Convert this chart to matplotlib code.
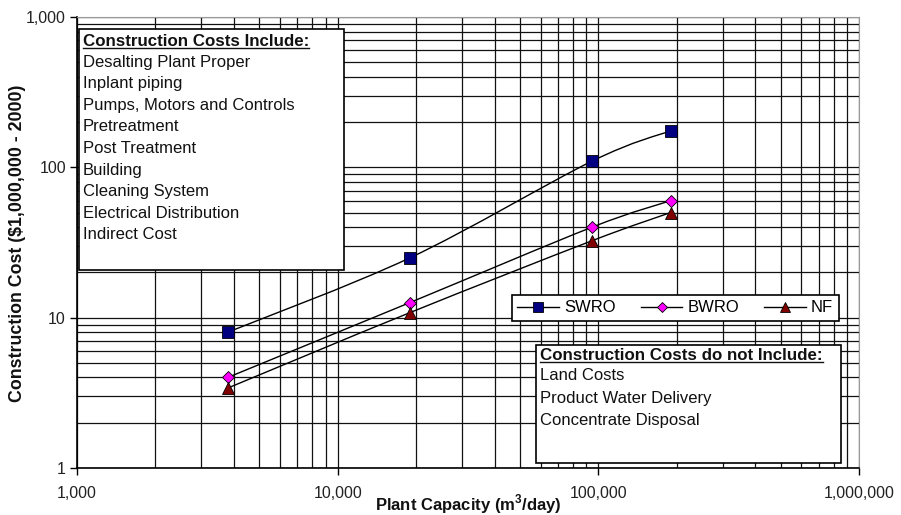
import numpy as np
import matplotlib
matplotlib.use("Agg")
import matplotlib.pyplot as plt
from matplotlib.path import Path
from matplotlib.patches import PathPatch, Rectangle
from matplotlib.lines import Line2D
from matplotlib.ticker import FuncFormatter, LogLocator

plt.rcParams['font.family'] = ['Liberation Sans', 'DejaVu Sans']
plt.rcParams['mathtext.fontset'] = 'custom'
plt.rcParams['mathtext.bf'] = 'Liberation Sans:bold'
plt.rcParams['mathtext.rm'] = 'Liberation Sans'

# ---- data ----
capacity = [3785, 18927, 94635, 189270]
swro = [8.0, 25.0, 110.0, 175.0]
bwro = [4.0, 12.6, 40.0, 60.0]
nf = [3.4, 10.8, 32.5, 50.0]

series_names = ["SWRO", "BWRO", "NF"]
include_title = "Construction Costs Include:"
include_items = ["Desalting Plant Proper", "Inplant piping", "Pumps, Motors and Controls",
                 "Pretreatment", "Post Treatment", "Building", "Cleaning System",
                 "Electrical Distribution", "Indirect Cost"]
exclude_title = "Construction Costs do not Include:"
exclude_items = ["Land Costs", "Product Water Delivery", "Concentrate Disposal"]

W, H = 901, 515
fig = plt.figure(figsize=(W / 100, H / 100), dpi=100)
ax = fig.add_axes([77 / W, 1 - 468 / H, (859 - 77) / W, (468 - 17) / H])
ax.set_xscale('log')
ax.set_yscale('log')
ax.set_xlim(1000, 1e6)
ax.set_ylim(1, 1000)

ax.xaxis.set_major_locator(LogLocator(base=10, numticks=10))
ax.xaxis.set_minor_locator(LogLocator(base=10, subs=np.arange(2, 10), numticks=20))
ax.yaxis.set_major_locator(LogLocator(base=10, numticks=10))
ax.yaxis.set_minor_locator(LogLocator(base=10, subs=np.arange(2, 10), numticks=20))
fmt = FuncFormatter(lambda v, p: f"{int(round(v)):,}")
ax.xaxis.set_major_formatter(fmt)
ax.yaxis.set_major_formatter(fmt)
ax.grid(True, which='both', color='#111111', lw=0.9)
ax.set_axisbelow(True)
ax.tick_params(which='major', direction='out', length=5, width=1, labelsize=11.5,
               labelcolor='#222222', pad=3)
ax.tick_params(which='minor', length=0)
ax.tick_params(axis='x', pad=8)
for s in ['top', 'right']:
    ax.spines[s].set_color('#999999')
for s in ['left', 'bottom']:
    ax.spines[s].set_color('black')
    ax.spines[s].set_linewidth(1.2)


def fx(px):
    return px / W


def fy(py):
    return 1 - py / H


fig.text(fx(468), fy(504), "Plant Capacity (m$^\\mathbf{3}$/day)", fontsize=12,
         fontweight='bold', ha='center', va='center', color='#111111')
fig.text(fx(18), fy(243), "Construction Cost ($1,000,000 - 2000)", fontsize=12.8,
         fontweight='bold', ha='center', va='center', rotation=90, color='#111111')

styles = [
    dict(marker='s', mfc='#000080', ms=8),
    dict(marker='D', mfc='#FF00FF', ms=6),
    dict(marker='^', mfc='#800000', ms=8),
]


def smooth_path(xs, ys):
    lx = np.log10(xs)
    ly = np.log10(ys)
    P = np.column_stack([lx, ly])
    n = len(P)
    verts = [P[0]]
    codes = [Path.MOVETO]
    for i in range(n - 1):
        p0 = P[i - 1] if i > 0 else P[i]
        p1 = P[i]
        p2 = P[i + 1]
        p3 = P[i + 2] if i + 2 < n else P[i + 1]
        c1 = p1 + (p2 - p0) / 6
        c2 = p2 - (p3 - p1) / 6
        verts += [c1, c2, p2]
        codes += [Path.CURVE4] * 3
    verts = 10 ** np.array(verts)
    return Path(verts, codes)


handles = []
for name, ys, st in zip(series_names, [swro, bwro, nf], styles):
    ax.add_patch(PathPatch(smooth_path(capacity, ys), fc='none', ec='black', lw=1.0, zorder=3))
    ax.plot(capacity, ys, ls='none', marker=st['marker'], mfc=st['mfc'], mec='black',
            mew=0.6, ms=st['ms'], zorder=4)
    handles.append(Line2D([], [], color='black', lw=1.0, marker=st['marker'], mfc=st['mfc'],
                          mec='black', mew=0.6, ms=st['ms'] * 0.85))

leg = ax.legend(handles, series_names, ncol=3, loc='center', bbox_to_anchor=(0.765, 0.355),
                frameon=True, fancybox=False, edgecolor='black', framealpha=1, fontsize=12,
                handlelength=2.5, columnspacing=1.5, handletextpad=0.3, borderpad=0.35,
                numpoints=1)
leg.get_frame().set_linewidth(1.2)
leg.set_zorder(6)

# boxes in figure pixel coords
for (x0, y0, x1, y1) in [(79, 29, 344, 270), (536, 345, 841, 463)]:
    fig.add_artist(Rectangle((fx(x0), fy(y1)), fx(x1) - fx(x0), fy(y0) - fy(y1),
                             transform=fig.transFigure, fc='white', ec='black', lw=1.2, zorder=5))

hdrs = []
t = fig.text(fx(83), fy(41), include_title, fontsize=12.2, fontweight='bold', va='center',
             ha='left', color='#111111', zorder=7)
hdrs.append(t)
for i, item in enumerate(include_items):
    fig.text(fx(83), fy(62 + i * 21.6), item, fontsize=12, va='center', ha='left',
             color='#111111', zorder=7)

t = fig.text(fx(540), fy(355), exclude_title, fontsize=12.2, fontweight='bold', va='center',
             ha='left', color='#111111', zorder=7)
hdrs.append(t)
for i, item in enumerate(exclude_items):
    fig.text(fx(540), fy(376 + i * 22), item, fontsize=12, va='center', ha='left',
             color='#111111', zorder=7)

fig.canvas.draw()
r = fig.canvas.get_renderer()
for t in hdrs:
    bb = t.get_window_extent(r)
    yline = bb.y0 + 1
    fig.add_artist(Line2D([bb.x0 / W, bb.x1 / W], [yline / H, yline / H],
                          transform=fig.transFigure, color='#111111', lw=1.0, zorder=8))

fig.savefig("out.png", dpi=100)
